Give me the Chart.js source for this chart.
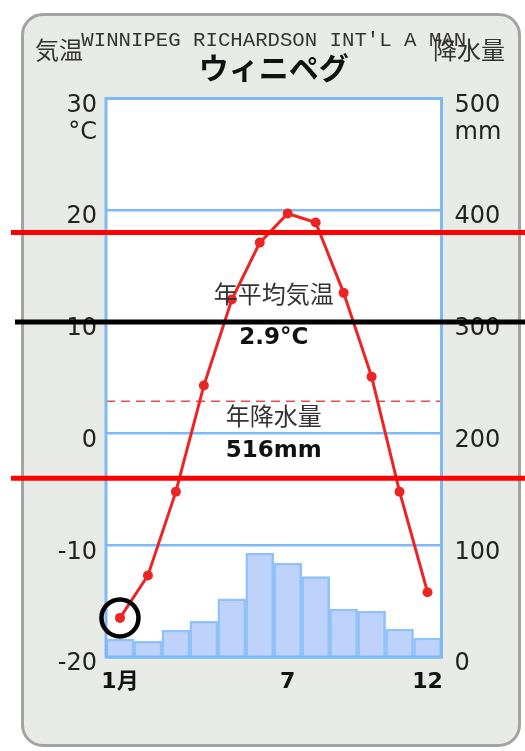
<!DOCTYPE html>
<html lang="ja">
<head>
<meta charset="UTF-8">
<title>ウィニペグ 雨温図</title>
<script src="https://cdn.jsdelivr.net/npm/chart.js"></script>
<style>
    body {
        margin: 0;
        width: 525px;
        height: 751px;
        background: #fff;
        position: relative;
        overflow: hidden;
    }
    .card {
        position: absolute;
        left: 21px;
        top: 13px;
        width: 494px;
        height: 728px;
        border: 3px solid #a3a3a3;
        border-radius: 22px;
        background: #e8eae6;
    }
    .wrap {
        position: absolute;
        left: 0;
        top: 0;
        width: 525px;
        height: 751px;
    }
</style>
</head>
<body>
<div class="card"></div>
<div class="wrap"><canvas id="chart" width="525" height="751"></canvas></div>

<script>
    // months and the few labels shown under the axis
    const months = ['1', '2', '3', '4', '5', '6', '7', '8', '9', '10', '11', '12'];
    const monthTicks = ['1月', '', '', '', '', '', '7', '', '', '', '', '12'];

    // monthly mean temperature (°C) and precipitation (mm)
    const temps = [-16.5, -12.7, -5.2, 4.3, 12.0, 17.1, 19.7, 18.9, 12.6, 5.1, -5.2, -14.2];
    const precip = [16, 14, 24, 32, 52, 93, 84, 72, 43, 41, 25, 17];

    const annualTemp = 2.9;   // 年平均気温
    const annualPrecip = 516; // 年降水量

    // marks added on top of the chart (temperature values)
    const redMarks = [18, -4];
    const blackMarks = [10];
    const circledMonth = 0;

    const sans = "'DejaVu Sans', 'Noto Sans CJK JP', sans-serif";
    const jp = "'Noto Sans CJK JP', 'DejaVu Sans', sans-serif";

    const overlay = {
        id: 'overlay',
        beforeDraw(chart) {
            const { ctx, chartArea: a } = chart;
            ctx.save();
            ctx.fillStyle = '#ffffff';
            ctx.fillRect(a.left, a.top, a.right - a.left, a.bottom - a.top);
            ctx.restore();
        },
        beforeDatasetsDraw(chart) {
            // dashed line for the annual mean temperature
            const { ctx, chartArea: a, scales } = chart;
            const y = scales.y.getPixelForValue(annualTemp);
            ctx.save();
            ctx.strokeStyle = '#e84c4c';
            ctx.lineWidth = 1.5;
            ctx.setLineDash([9, 6]);
            ctx.beginPath();
            ctx.moveTo(a.left, y);
            ctx.lineTo(a.right, y);
            ctx.stroke();
            ctx.restore();
        },
        afterDatasetsDraw(chart) {
            const { ctx, chartArea: a, scales } = chart;
            const cx = (a.left + a.right) / 2;
            ctx.save();
            // plot frame
            ctx.strokeStyle = '#7db9f6';
            ctx.lineWidth = 3;
            ctx.strokeRect(a.left, a.top, a.right - a.left, a.bottom - a.top);

            // annual figures
            ctx.textAlign = 'center';
            ctx.textBaseline = 'middle';
            ctx.fillStyle = '#333';
            ctx.font = '24px ' + jp;
            ctx.fillText('年平均気温', cx, scales.y.getPixelForValue(12.5));
            ctx.fillText('年降水量', cx, scales.y.getPixelForValue(1.6));
            ctx.fillStyle = '#111';
            ctx.font = 'bold 23px ' + sans;
            ctx.fillText(annualTemp.toFixed(1) + '°C', cx, scales.y.getPixelForValue(8.6));
            ctx.fillText(annualPrecip + 'mm', cx, scales.y.getPixelForValue(-1.6));
            ctx.restore();
        },
        afterDraw(chart) {
            const { ctx, chartArea: a, scales } = chart;
            const cx = (a.left + a.right) / 2;
            ctx.save();
            ctx.textBaseline = 'middle';

            // station name and city
            ctx.textAlign = 'center';
            ctx.fillStyle = '#333';
            ctx.font = "20.7px 'Liberation Mono', monospace";
            ctx.fillText("WINNIPEG RICHARDSON INT'L A MAN", cx, 41);
            ctx.fillStyle = '#111';
            ctx.font = 'bold 30px ' + jp;
            ctx.fillText('ウィニペグ', cx, 68);

            // axis headings
            ctx.fillStyle = '#333';
            ctx.font = '24px ' + jp;
            ctx.textAlign = 'left';
            ctx.fillText('気温', 35, 50);
            ctx.textAlign = 'right';
            ctx.fillText('降水量', 505, 50);

            // units under the top ticks
            ctx.font = '24px ' + sans;
            ctx.fillStyle = '#222';
            const uy = scales.y.getPixelForValue(30) + 34;
            ctx.textAlign = 'right';
            ctx.fillText('°C', a.left - 9, uy);
            ctx.textAlign = 'left';
            ctx.fillText('mm', a.right + 13, uy);

            // drawn-on marks
            ctx.lineWidth = 5;
            ctx.strokeStyle = '#ff0000';
            redMarks.forEach(v => {
                const y = scales.y.getPixelForValue(v);
                ctx.beginPath();
                ctx.moveTo(11, y);
                ctx.lineTo(chart.width, y);
                ctx.stroke();
            });
            ctx.strokeStyle = '#000000';
            blackMarks.forEach(v => {
                const y = scales.y.getPixelForValue(v);
                ctx.beginPath();
                ctx.moveTo(15, y);
                ctx.lineTo(chart.width, y);
                ctx.stroke();
            });
            const pt = chart.getDatasetMeta(1).data[circledMonth];
            ctx.lineWidth = 4.5;
            ctx.beginPath();
            ctx.arc(pt.x, pt.y, 18.5, 0, Math.PI * 2);
            ctx.stroke();
            ctx.restore();
        }
    };

    new Chart(document.getElementById('chart'), {
        type: 'bar',
        data: {
            labels: months,
            datasets: [
                {
                    type: 'bar',
                    label: '降水量',
                    data: precip,
                    yAxisID: 'y2',
                    backgroundColor: '#bed2fb',
                    borderColor: '#8ec2f9',
                    borderWidth: 2.5,
                    barPercentage: 1,
                    categoryPercentage: 1,
                    order: 2
                },
                {
                    type: 'line',
                    label: '気温',
                    data: temps,
                    yAxisID: 'y',
                    borderColor: '#ee2424',
                    backgroundColor: '#ee2424',
                    borderWidth: 3,
                    pointRadius: 5,
                    pointBorderWidth: 0,
                    tension: 0,
                    order: 1
                }
            ]
        },
        options: {
            responsive: false,
            animation: false,
            devicePixelRatio: 1,
            layout: { padding: { top: 98.5, left: 0, right: 0, bottom: 0 } },
            plugins: {
                legend: { display: false },
                tooltip: { enabled: false }
            },
            scales: {
                x: {
                    offset: true,
                    grid: { display: false, drawTicks: false },
                    border: { display: false },
                    ticks: {
                        autoSkip: false,
                        maxRotation: 0,
                        padding: 12,
                        color: '#111',
                        font: { family: sans, size: 22, weight: 'bold' },
                        callback: (v, i) => monthTicks[i]
                    },
                    afterFit: s => { s.height = 94; }
                },
                y: {
                    position: 'left',
                    min: -20,
                    max: 30,
                    grid: { color: '#7db9f6', lineWidth: 2.5, drawTicks: false },
                    border: { display: false },
                    ticks: {
                        stepSize: 10,
                        padding: 9,
                        labelOffset: 7,
                        color: '#222',
                        font: { family: sans, size: 24 }
                    },
                    afterFit: s => { s.width = 106; }
                },
                y2: {
                    position: 'right',
                    min: 0,
                    max: 500,
                    grid: { display: false, drawTicks: false },
                    border: { display: false },
                    ticks: {
                        stepSize: 100,
                        padding: 13,
                        labelOffset: 7,
                        color: '#222',
                        font: { family: sans, size: 24 }
                    },
                    afterFit: s => { s.width = 83.5; }
                }
            }
        },
        plugins: [overlay]
    });
</script>
</body>
</html>
